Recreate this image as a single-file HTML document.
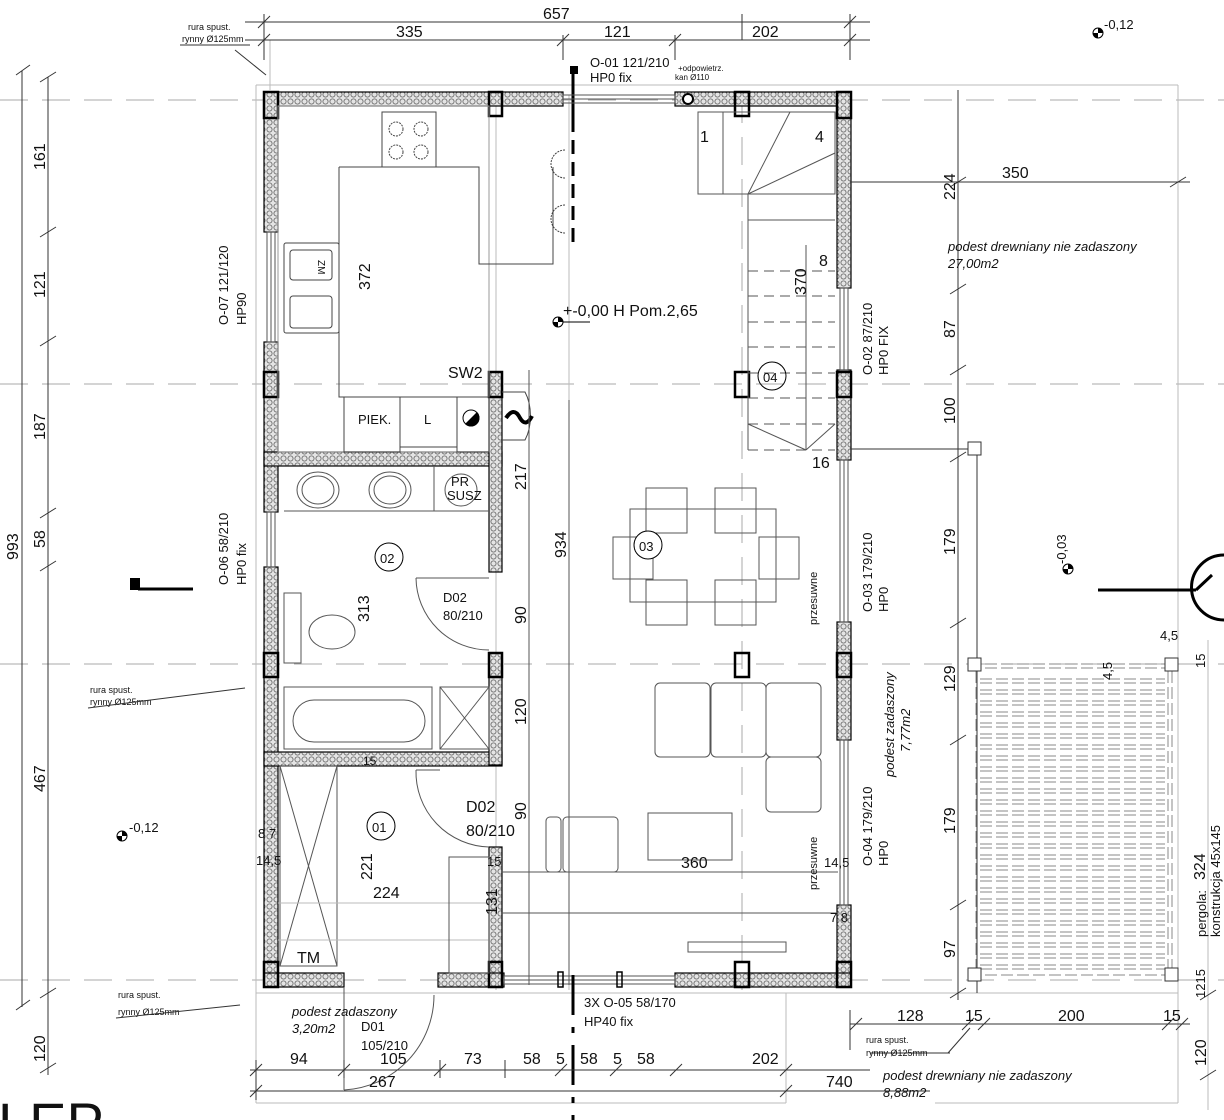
<!DOCTYPE html>
<html><head><meta charset="utf-8"><style>
html,body{margin:0;padding:0;background:#fff;}
svg{display:block;}
text{font-family:"Liberation Sans",sans-serif;fill:#111;}
.d{font-size:16px;}
.s{font-size:13px;}
.xs{font-size:9px;}
.it{font-style:italic;font-size:13px;}
</style></head><body>
<svg width="1224" height="1120" viewBox="0 0 1224 1120" xmlns="http://www.w3.org/2000/svg">
<defs>
<pattern id="h" width="7" height="7" patternUnits="userSpaceOnUse">
<rect width="7" height="7" fill="#e4e4e4"/>
<circle cx="3.5" cy="3.5" r="2.6" fill="none" stroke="#666" stroke-width="0.8"/>
</pattern>
</defs>

<g stroke="#aaa" stroke-width="1" stroke-dasharray="28,14" fill="none">
<line x1="0" y1="100" x2="1224" y2="100"/>
<line x1="0" y1="384" x2="1224" y2="384"/>
<line x1="0" y1="664" x2="1224" y2="664"/>
<line x1="0" y1="980" x2="1224" y2="980"/>
<line x1="742" y1="95" x2="742" y2="990"/>
</g>
<g stroke="#bbb" stroke-width="1" fill="none">
<line x1="496" y1="95" x2="496" y2="990"/>
<line x1="569" y1="95" x2="569" y2="990"/>
<line x1="270" y1="40" x2="270" y2="90"/>
<line x1="256" y1="85" x2="1178" y2="85"/>
<line x1="256" y1="85" x2="256" y2="1103"/>
<line x1="1178" y1="85" x2="1178" y2="1103"/>
<line x1="1208" y1="640" x2="1208" y2="1110"/>
<line x1="256" y1="993" x2="1178" y2="993"/>
<line x1="256" y1="1103" x2="786" y2="1103"/>
<line x1="786" y1="993" x2="786" y2="1103"/>
<line x1="935" y1="1103" x2="1178" y2="1103"/>
</g>

<g stroke="#333" stroke-width="1">
<line x1="245" y1="22" x2="870" y2="22"/>
<line x1="245" y1="40" x2="870" y2="40"/>
<line x1="264" y1="14" x2="264" y2="60"/><line x1="258" y1="28" x2="270" y2="16"/><line x1="258" y1="46" x2="270" y2="34"/>
<line x1="563" y1="35" x2="563" y2="60"/><line x1="557" y1="46" x2="569" y2="34"/>
<line x1="675" y1="35" x2="675" y2="60"/><line x1="669" y1="46" x2="681" y2="34"/>
<line x1="850" y1="14" x2="850" y2="60"/><line x1="844" y1="28" x2="856" y2="16"/><line x1="844" y1="46" x2="856" y2="34"/>
<line x1="742" y1="14" x2="742" y2="40"/>
</g>
<text class="d" x="543" y="19">657</text>
<text class="d" x="396" y="37">335</text>
<text class="d" x="604" y="37">121</text>
<text class="d" x="752" y="37">202</text>
<text class="xs" x="188" y="30">rura spust.</text>
<text class="xs" x="182" y="42">rynny Ø125mm</text>
<line x1="180" y1="45" x2="250" y2="45" stroke="#333"/>
<line x1="235" y1="50" x2="266" y2="75" stroke="#333"/>
<text class="s" x="590" y="67">O-01 121/210</text>
<text class="s" x="590" y="82">HP0 fix</text>
<rect x="570" y="66" width="8" height="8" fill="#000"/>
<line x1="573" y1="70" x2="573" y2="118" stroke="#000" stroke-width="3"/>
<text x="678" y="71" style="font-size:8px">+odpowietrz.</text>
<text x="675" y="80" style="font-size:8px">kan Ø110</text>
<circle cx="1098" cy="33" r="5" fill="none" stroke="#000"/><path d="M1098 28 A5 5 0 0 1 1103 33 L1098 33Z M1098 38 A5 5 0 0 1 1093 33 L1098 33Z" fill="#000"/>
<text class="s" x="1104" y="29">-0,12</text>

<g stroke="#333" stroke-width="1">
<line x1="22" y1="71" x2="22" y2="1007"/>
<line x1="48" y1="77" x2="48" y2="1075"/>
<line x1="16" y1="75" x2="30" y2="65"/><line x1="16" y1="1010" x2="30" y2="1000"/>
<line x1="40" y1="82" x2="56" y2="72"/><line x1="40" y1="237" x2="56" y2="227"/><line x1="40" y1="346" x2="56" y2="336"/>
<line x1="40" y1="518" x2="56" y2="508"/><line x1="40" y1="571" x2="56" y2="561"/><line x1="40" y1="998" x2="56" y2="988"/><line x1="40" y1="1073" x2="56" y2="1063"/>
</g>
<g class="d">
<text transform="translate(18,560) rotate(-90)">993</text>
<text transform="translate(45,170) rotate(-90)">161</text>
<text transform="translate(45,298) rotate(-90)">121</text>
<text transform="translate(45,440) rotate(-90)">187</text>
<text transform="translate(45,548) rotate(-90)">58</text>
<text transform="translate(45,792) rotate(-90)">467</text>
<text transform="translate(45,1062) rotate(-90)">120</text>
</g>
<rect x="130" y="578" width="10" height="12" fill="#000"/>
<line x1="138" y1="589" x2="193" y2="589" stroke="#000" stroke-width="3"/>
<text class="xs" x="90" y="693">rura spust.</text>
<text class="xs" x="90" y="705">rynny Ø125mm</text>
<line x1="88" y1="708" x2="245" y2="688" stroke="#333"/>
<text class="xs" x="118" y="998">rura spust.</text>
<text class="xs" x="118" y="1015">rynny Ø125mm</text>
<line x1="116" y1="1018" x2="240" y2="1005" stroke="#333"/>
<circle cx="122" cy="836" r="5" fill="none" stroke="#000"/><path d="M122 831 A5 5 0 0 1 127 836 L122 836Z M122 841 A5 5 0 0 1 117 836 L122 836Z" fill="#000"/>
<text class="s" x="129" y="832">-0,12</text>
<text transform="translate(228,325) rotate(-90)" class="s">O-07 121/120</text>
<text transform="translate(246,325) rotate(-90)" class="s">HP90</text>
<text transform="translate(228,585) rotate(-90)" class="s">O-06 58/210</text>
<text transform="translate(246,585) rotate(-90)" class="s">HP0 fix</text>
<text x="-2" y="1142" style="font-size:56px;font-family:'Liberation Sans',sans-serif">LEP</text>

<g fill="url(#h)" stroke="#000" stroke-width="1.2">
<rect x="264" y="92" width="299" height="14"/>
<rect x="675" y="92" width="176" height="14"/>
<rect x="264" y="92" width="14" height="140"/>
<rect x="264" y="342" width="14" height="170"/>
<rect x="264" y="567" width="14" height="420"/>
<rect x="837" y="92" width="14" height="196"/>
<rect x="837" y="370" width="14" height="90"/>
<rect x="837" y="622" width="14" height="118"/>
<rect x="837" y="905" width="14" height="82"/>
<rect x="264" y="452" width="238" height="14"/>
<rect x="264" y="752" width="238" height="14"/>
<rect x="489" y="372" width="13" height="200"/>
<rect x="489" y="653" width="13" height="112"/>
<rect x="489" y="847" width="13" height="140"/>
<rect x="264" y="973" width="80" height="14"/>
<rect x="438" y="973" width="66" height="14"/>
<rect x="675" y="973" width="176" height="14"/>
</g>
<g fill="none" stroke="#555" stroke-width="1">
<rect x="563" y="95" width="112" height="8"/><line x1="563" y1="99" x2="675" y2="99"/>
<rect x="267" y="232" width="8" height="110"/><line x1="271" y1="232" x2="271" y2="342"/>
<rect x="267" y="512" width="8" height="55"/><line x1="271" y1="512" x2="271" y2="567"/>
<rect x="840" y="288" width="8" height="82"/><line x1="844" y1="288" x2="844" y2="370"/>
<rect x="840" y="460" width="8" height="162"/><line x1="844" y1="460" x2="844" y2="622"/>
<rect x="840" y="740" width="8" height="165"/><line x1="844" y1="740" x2="844" y2="905"/>
<rect x="504" y="976" width="171" height="8"/><line x1="504" y1="980" x2="675" y2="980"/>
</g>
<circle cx="688" cy="99" r="5" fill="#fff" stroke="#000" stroke-width="2"/>
<g fill="none" stroke="#000" stroke-width="2.5">
<rect x="264" y="92" width="14" height="26"/><rect x="489" y="92" width="13" height="24"/>
<rect x="735" y="92" width="14" height="24"/><rect x="837" y="92" width="14" height="26"/>
<rect x="264" y="372" width="14" height="25"/><rect x="489" y="372" width="13" height="25"/>
<rect x="735" y="372" width="14" height="25"/><rect x="837" y="372" width="14" height="25"/>
<rect x="264" y="653" width="14" height="24"/><rect x="489" y="653" width="13" height="24"/>
<rect x="735" y="653" width="14" height="24"/><rect x="837" y="653" width="14" height="24"/>
<rect x="264" y="962" width="14" height="25"/><rect x="489" y="962" width="13" height="25"/>
<rect x="735" y="962" width="14" height="25"/><rect x="837" y="962" width="14" height="25"/>
</g>
<rect x="558" y="972" width="5" height="15" fill="none" stroke="#000" stroke-width="1.5"/>
<rect x="617" y="972" width="5" height="15" fill="none" stroke="#000" stroke-width="1.5"/>
<line x1="573" y1="975" x2="573" y2="1120" stroke="#000" stroke-width="3" stroke-dasharray="40,12,6,12"/>
<line x1="573" y1="118" x2="573" y2="245" stroke="#000" stroke-width="3" stroke-dasharray="14,8"/>

<g fill="none" stroke="#444" stroke-width="1">
<rect x="278" y="106" width="211" height="346" stroke="#999"/>
<rect x="382" y="112" width="54" height="55"/>
<circle cx="396" cy="129" r="7" stroke-dasharray="2,1"/><circle cx="421" cy="129" r="7" stroke-dasharray="2,1"/>
<circle cx="396" cy="152" r="7" stroke-dasharray="2,1"/><circle cx="421" cy="152" r="7" stroke-dasharray="2,1"/>
<path d="M339 167 H479 V264 H553 V167"/>
<path d="M339 167 V397 H489"/>
<rect x="284" y="243" width="55" height="90" rx="2"/>
<rect x="290" y="250" width="42" height="30" rx="3"/>
<rect x="290" y="296" width="42" height="32" rx="3"/>
<rect x="344" y="397" width="56" height="55"/>
<rect x="400" y="397" width="57" height="50"/>
<rect x="457" y="397" width="32" height="55"/>
<path d="M565 150 A14 14 0 1 0 565 178" stroke-dasharray="2,1"/>
<path d="M565 205 A14 14 0 1 0 565 233" stroke-dasharray="2,1"/>
<path d="M502 392 H525 A20 35 0 0 1 525 440 H502"/>
</g>
<text class="xs" transform="translate(318,260) rotate(90)" style="font-size:10px">ZM</text>
<circle cx="471" cy="418" r="8" fill="#fff" stroke="#000"/><path d="M477 412 A8 8 0 0 1 465 424Z" fill="#000"/>
<path d="M506 418 q8 -12 14 0 q6 10 12 -2" stroke="#000" stroke-width="4" fill="none"/>
<text class="d" transform="translate(370,290) rotate(-90)">372</text>
<text class="d" x="448" y="378">SW2</text>
<text class="s" x="358" y="424">PIEK.</text>
<text class="s" x="424" y="424">L</text>
<circle cx="558" cy="322" r="5" fill="none" stroke="#000"/><path d="M558 317 A5 5 0 0 1 563 322 L558 322Z M558 327 A5 5 0 0 1 553 322 L558 322Z" fill="#000"/>
<line x1="563" y1="322" x2="590" y2="322" stroke="#000"/>
<text class="d" x="563" y="316">+-0,00 H Pom.2,65</text>

<g fill="none" stroke="#555" stroke-width="1">
<rect x="698" y="112" width="137" height="82"/>
<line x1="723" y1="112" x2="723" y2="194"/>
<line x1="748" y1="194" x2="748" y2="450"/>
<line x1="748" y1="220" x2="835" y2="220"/>
<line x1="748" y1="194" x2="790" y2="112"/><line x1="748" y1="194" x2="835" y2="153"/>
<g stroke-dasharray="10,6">
<line x1="748" y1="271" x2="835" y2="271"/><line x1="748" y1="296" x2="835" y2="296"/>
<line x1="748" y1="322" x2="835" y2="322"/><line x1="748" y1="347" x2="835" y2="347"/>
<line x1="748" y1="373" x2="835" y2="373"/><line x1="748" y1="398" x2="835" y2="398"/>
<line x1="748" y1="424" x2="835" y2="424"/><line x1="748" y1="450" x2="835" y2="450"/>
</g>
<line x1="806" y1="245" x2="806" y2="450"/>
<line x1="748" y1="424" x2="806" y2="450"/><line x1="835" y1="424" x2="806" y2="450"/>
</g>
<text class="d" x="700" y="142">1</text>
<text class="d" x="815" y="142">4</text>
<text class="d" x="819" y="266">8</text>
<text class="d" x="812" y="468">16</text>
<text class="d" transform="translate(806,295) rotate(-90)">370</text>
<circle cx="772" cy="376" r="14" fill="none" stroke="#000"/><text class="s" x="763" y="382">04</text>

<g fill="none" stroke="#555" stroke-width="1">
<line x1="284" y1="511" x2="489" y2="511"/>
<line x1="434" y1="466" x2="434" y2="511"/>
<ellipse cx="318" cy="490" rx="21" ry="18"/><ellipse cx="318" cy="490" rx="16" ry="14"/>
<ellipse cx="390" cy="490" rx="21" ry="18"/><ellipse cx="390" cy="490" rx="16" ry="14"/>
<circle cx="461" cy="490" r="16"/>
<rect x="284" y="593" width="17" height="70"/>
<ellipse cx="332" cy="632" rx="23" ry="17"/>
<path d="M416 578 H489 M416 578 A73 73 0 0 0 489 650"/>
<rect x="284" y="687" width="148" height="62"/>
<rect x="293" y="700" width="132" height="42" rx="21"/>
<rect x="440" y="687" width="49" height="62"/><line x1="440" y1="687" x2="489" y2="749"/><line x1="489" y1="687" x2="440" y2="749"/>
<rect x="280" y="766" width="57" height="200"/><line x1="280" y1="766" x2="337" y2="966"/><line x1="337" y1="766" x2="280" y2="966"/>
<line x1="278" y1="940" x2="489" y2="940" stroke="#bbb"/>
<line x1="278" y1="903" x2="489" y2="903" stroke="#bbb"/>
<rect x="449" y="857" width="40" height="116"/>
<path d="M416 770 H440 M416 770 A75 75 0 0 0 489 847"/>
<path d="M344 987 V1090 M434 995 A95 95 0 0 1 344 1090"/>
</g>
<text class="s" x="451" y="486">PR</text><text class="s" x="447" y="500">SUSZ</text>
<circle cx="389" cy="557" r="14" fill="none" stroke="#000"/><text class="s" x="380" y="563">02</text>
<text class="d" transform="translate(369,622) rotate(-90)">313</text>
<text class="s" x="443" y="602">D02</text><text class="s" x="443" y="620">80/210</text>
<circle cx="381" cy="826" r="14" fill="none" stroke="#000"/><text class="s" x="372" y="832">01</text>
<text class="d" transform="translate(372,880) rotate(-90)">221</text>
<text class="d" x="373" y="898">224</text>
<text class="d" x="466" y="812">D02</text><text class="d" x="466" y="836">80/210</text>
<text class="s" x="258" y="838">8 7</text><text class="s" x="256" y="865">14,5</text>
<text class="d" x="297" y="963">TM</text>
<text class="d" x="363" y="765" style="font-size:12px">15</text>

<g fill="none" stroke="#555" stroke-width="1">
<line x1="529" y1="370" x2="529" y2="985"/>
<line x1="569" y1="400" x2="569" y2="985"/>
<rect x="630" y="509" width="146" height="93"/>
<rect x="646" y="488" width="41" height="45"/><rect x="715" y="488" width="41" height="45"/>
<rect x="646" y="580" width="41" height="45"/><rect x="715" y="580" width="41" height="45"/>
<rect x="613" y="537" width="40" height="42"/><rect x="759" y="537" width="40" height="42"/>
<rect x="655" y="683" width="55" height="74" rx="5"/><rect x="711" y="683" width="55" height="74" rx="5"/><rect x="766" y="683" width="55" height="74" rx="5"/>
<rect x="766" y="757" width="55" height="55" rx="5"/>
<rect x="546" y="817" width="15" height="55" rx="4"/><rect x="563" y="817" width="55" height="55" rx="4"/>
<rect x="648" y="813" width="84" height="47"/>
<line x1="502" y1="872" x2="838" y2="872"/>
<line x1="502" y1="913" x2="838" y2="913"/>
<rect x="688" y="942" width="98" height="10"/>
</g>
<circle cx="648" cy="545" r="14" fill="#fff" stroke="#000"/><text class="s" x="639" y="551">03</text>
<text class="d" transform="translate(526,490) rotate(-90)">217</text>
<text class="d" transform="translate(566,558) rotate(-90)">934</text>
<text class="d" transform="translate(526,624) rotate(-90)">90</text>
<text class="d" transform="translate(526,725) rotate(-90)">120</text>
<text class="d" transform="translate(526,820) rotate(-90)">90</text>
<text class="d" transform="translate(497,915) rotate(-90)">131</text>
<text class="d" x="681" y="868">360</text>
<text class="s" x="487" y="866">15</text>
<text class="s" x="824" y="867">14,5</text>
<text class="s" x="830" y="922">7 8</text>
<text class="s" transform="translate(817,625) rotate(-90)" style="font-size:11px">przesuwne</text>
<text class="s" transform="translate(817,890) rotate(-90)" style="font-size:11px">przesuwne</text>

<text class="s" transform="translate(872,375) rotate(-90)">O-02 87/210</text>
<text class="s" transform="translate(888,375) rotate(-90)">HP0 FIX</text>
<text class="s" transform="translate(872,612) rotate(-90)">O-03 179/210</text>
<text class="s" transform="translate(888,612) rotate(-90)">HP0</text>
<text class="s" transform="translate(872,866) rotate(-90)">O-04 179/210</text>
<text class="s" transform="translate(888,866) rotate(-90)">HP0</text>
<text class="it" transform="translate(894,777) rotate(-90)">podest zadaszony</text>
<text class="it" transform="translate(910,752) rotate(-90)">7,77m2</text>
<g stroke="#333" stroke-width="1" fill="none">
<line x1="958" y1="90" x2="958" y2="1000"/>
<line x1="851" y1="182" x2="1190" y2="182"/>
<line x1="851" y1="449" x2="968" y2="449"/>
<rect x="968" y="442" width="13" height="13"/>
<line x1="977" y1="455" x2="977" y2="993"/>
<g><line x1="950" y1="187" x2="966" y2="177"/><line x1="950" y1="294" x2="966" y2="284"/><line x1="950" y1="375" x2="966" y2="365"/>
<line x1="950" y1="462" x2="966" y2="452"/><line x1="950" y1="628" x2="966" y2="618"/><line x1="950" y1="745" x2="966" y2="735"/>
<line x1="950" y1="910" x2="966" y2="900"/><line x1="950" y1="998" x2="966" y2="988"/><line x1="1170" y1="187" x2="1186" y2="177"/></g>
<line x1="1200" y1="1000" x2="1216" y2="990"/><line x1="1200" y1="1080" x2="1216" y2="1070"/>
</g>
<text class="d" x="1002" y="178">350</text>
<g class="d">
<text transform="translate(955,200) rotate(-90)">224</text>
<text transform="translate(955,338) rotate(-90)">87</text>
<text transform="translate(955,424) rotate(-90)">100</text>
<text transform="translate(955,555) rotate(-90)">179</text>
<text transform="translate(955,692) rotate(-90)">129</text>
<text transform="translate(955,834) rotate(-90)">179</text>
<text transform="translate(955,958) rotate(-90)">97</text>
<text transform="translate(1206,1066) rotate(-90)">120</text>
</g>
<text class="it" x="948" y="251">podest drewniany nie zadaszony</text>
<text class="it" x="948" y="268">27,00m2</text>
<circle cx="1068" cy="569" r="5" fill="none" stroke="#000"/><path d="M1068 564 A5 5 0 0 1 1073 569 L1068 569Z M1068 574 A5 5 0 0 1 1063 569 L1068 569Z" fill="#000"/>
<text class="s" transform="translate(1066,564) rotate(-90)">-0,03</text>
<line x1="1098" y1="590" x2="1196" y2="590" stroke="#000" stroke-width="3"/>
<path d="M1196 590 L1212 575 M1224 555 A30 30 0 0 0 1224 620" stroke="#000" stroke-width="3" fill="none"/>

<g stroke="#888" stroke-width="1" stroke-dasharray="12,4">
<path d="M980 679H1165M980 683H1165M980 690H1165M980 694H1165M980 701H1165M980 705H1165M980 712H1165M980 716H1165M980 723H1165M980 727H1165M980 734H1165M980 738H1165M980 745H1165M980 749H1165M980 756H1165M980 760H1165M980 767H1165M980 771H1165M980 778H1165M980 782H1165M980 789H1165M980 793H1165M980 800H1165M980 804H1165M980 811H1165M980 815H1165M980 822H1165M980 826H1165M980 833H1165M980 837H1165M980 844H1165M980 848H1165M980 855H1165M980 859H1165M980 866H1165M980 870H1165M980 877H1165M980 881H1165M980 888H1165M980 892H1165M980 899H1165M980 903H1165M980 910H1165M980 914H1165M980 921H1165M980 925H1165M980 932H1165M980 936H1165M980 943H1165M980 947H1165M980 954H1165M980 958H1165M980 965H1165M980 969H1165"/>
<path d="M985 664H1165M985 668H1165M985 975H1165"/>
<line x1="976" y1="671" x2="976" y2="968"/><line x1="1168" y1="671" x2="1168" y2="968"/><line x1="1172" y1="671" x2="1172" y2="968"/>
</g>
<g fill="#fff" stroke="#333">
<rect x="968" y="658" width="13" height="13"/><rect x="1165" y="658" width="13" height="13"/>
<rect x="968" y="968" width="13" height="13"/><rect x="1165" y="968" width="13" height="13"/>
</g>
<text class="s" x="1160" y="640">4,5</text>
<text class="s" transform="translate(1112,680) rotate(-90)">4,5</text>
<text class="s" transform="translate(1205,668) rotate(-90)">15</text>
<text class="s" transform="translate(1205,998) rotate(-90)">1215</text>
<text class="d" transform="translate(1205,880) rotate(-90)">324</text>
<text class="s" transform="translate(1206,937) rotate(-90)">pergola:</text>
<text class="s" transform="translate(1220,937) rotate(-90)">konstrukcja 45x145</text>

<g stroke="#333" stroke-width="1" fill="none">
<line x1="250" y1="1070" x2="870" y2="1070"/>
<line x1="250" y1="1091" x2="930" y2="1091"/>
<line x1="850" y1="1024" x2="1190" y2="1024"/>
<line x1="256" y1="1100" x2="256" y2="1060"/><line x1="344" y1="1078" x2="344" y2="1060"/>
<line x1="440" y1="1078" x2="440" y2="1060"/><line x1="505" y1="1078" x2="505" y2="1060"/>
<line x1="250" y1="1076" x2="262" y2="1064"/><line x1="338" y1="1076" x2="350" y2="1064"/><line x1="434" y1="1076" x2="446" y2="1064"/>
<line x1="780" y1="1076" x2="792" y2="1064"/><line x1="555" y1="1076" x2="567" y2="1064"/><line x1="610" y1="1076" x2="622" y2="1064"/><line x1="670" y1="1076" x2="682" y2="1064"/>
<line x1="250" y1="1097" x2="262" y2="1085"/><line x1="780" y1="1097" x2="792" y2="1085"/>
<line x1="850" y1="1030" x2="862" y2="1018"/><line x1="962" y1="1030" x2="974" y2="1018"/><line x1="978" y1="1030" x2="990" y2="1018"/>
<line x1="1162" y1="1030" x2="1174" y2="1018"/><line x1="1176" y1="1030" x2="1188" y2="1018"/>
<line x1="850" y1="1010" x2="850" y2="1050"/>
<line x1="870" y1="1053" x2="950" y2="1053"/><line x1="948" y1="1053" x2="970" y2="1028"/>
</g>
<text class="it" x="292" y="1016">podest zadaszony</text>
<text class="it" x="292" y="1033">3,20m2</text>
<text class="s" x="361" y="1031">D01</text>
<text class="s" x="361" y="1050">105/210</text>
<text class="s" x="584" y="1007">3X O-05 58/170</text>
<text class="s" x="584" y="1026">HP40 fix</text>
<g class="d">
<text x="290" y="1064">94</text><text x="380" y="1064">105</text><text x="464" y="1064">73</text>
<text x="523" y="1064">58</text><text x="556" y="1064">5</text><text x="580" y="1064">58</text>
<text x="613" y="1064">5</text><text x="637" y="1064">58</text><text x="752" y="1064">202</text>
<text x="369" y="1087">267</text><text x="826" y="1087">740</text>
<text x="897" y="1021">128</text><text x="965" y="1021">15</text><text x="1058" y="1021">200</text><text x="1163" y="1021">15</text>
</g>
<text class="xs" x="866" y="1043">rura spust.</text>
<text class="xs" x="866" y="1056">rynny Ø125mm</text>
<text class="it" x="883" y="1080">podest drewniany nie zadaszony</text>
<text class="it" x="883" y="1097">8,88m2</text>
</svg>
</body></html>
